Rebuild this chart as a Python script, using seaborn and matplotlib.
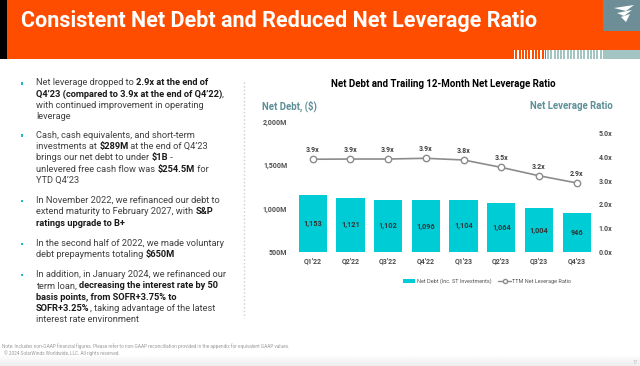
"""
净债务与净杠杆率幻灯片复刻
"""

import numpy as np
import pandas as pd
import matplotlib
matplotlib.use('Agg')
import matplotlib.pyplot as plt
import seaborn as sns
from matplotlib.patches import Rectangle, Polygon, Patch
from matplotlib.lines import Line2D
from matplotlib.ticker import FuncFormatter
from matplotlib import font_manager

# 数据
quarters = ["Q1'22", "Q2'22", "Q3'22", "Q4'22", "Q1'23", "Q2'23", "Q3'23", "Q4'23"]
net_debt = [1153, 1121, 1102, 1096, 1104, 1064, 1004, 946]
leverage = [3.89, 3.90, 3.90, 3.93, 3.86, 3.55, 3.20, 2.90]
leverage_labels = ["3.9x", "3.9x", "3.9x", "3.9x", "3.8x", "3.5x", "3.2x", "2.9x"]
debt_ticks = [500, 1000, 1500, 2000]
ratio_ticks = [0, 1, 2, 3, 4, 5]

df = pd.DataFrame({'quarter': quarters, 'pos': range(len(quarters)),
                   'net_debt': net_debt, 'leverage': leverage})

# 颜色
ORANGE = '#FF4D00'
TEAL = '#00CCD6'
AXIS_TITLE = '#5C8F97'
LINE_GRAY = '#8C8C8C'
TEXT = '#404040'
BOLD_TEXT = '#1A1A1A'

sns.set_style('white')
plt.rcParams['font.family'] = ['Roboto', 'DejaVu Sans']

installed = {f.name for f in font_manager.fontManager.ttflist}
TITLE_FONT = 'Liberation Sans Narrow' if 'Liberation Sans Narrow' in installed else 'Roboto'

W, H = 640, 366
fig = plt.figure(figsize=(W / 100, H / 100), dpi=100)
fig.patch.set_facecolor('white')


def fx(x):
    return x / W


def fy(y):
    return 1 - y / H


def rect(x0, y0, x1, y1, color, z=0):
    fig.add_artist(Rectangle((fx(x0), fy(y1)), (x1 - x0) / W, (y1 - y0) / H,
                             transform=fig.transFigure, facecolor=color,
                             edgecolor='none', zorder=z))


# ========== 页眉 ==========
rect(0, 0, W, 59, ORANGE)
rect(0, 0, 7, 59, 'black', 1)
rect(603, 0, W, 31, '#6D8E97', 1)
rect(546, 50, 605, 59, 'white', 1)
rect(605, 50, W, 59, '#A2C4C3', 1)
for xs in np.arange(514, 546, 3.3):
    rect(xs, 50, xs + 1.2, 59, 'white', 2)
for xs in np.arange(547, 604, 3.3):
    rect(xs, 50, xs + 2.0, 59, '#A2C4C3', 2)
# 简化的标志
for pts in [[(614, 8), (634, 5), (626, 11)], [(617, 13), (632, 10), (624, 16)],
            [(621, 17), (630, 14), (626, 22)]]:
    fig.add_artist(Polygon([(fx(a), fy(b)) for a, b in pts], closed=True,
                           transform=fig.transFigure, facecolor='white',
                           edgecolor='none', zorder=3))

fig.text(fx(21), fy(26.7), 'Consistent Net Debt and Reduced Net Leverage Ratio',
         fontsize=15.5, fontweight='bold', color='white', family=TITLE_FONT,
         va='baseline', ha='left', zorder=3)

# 页脚渐变
grad_ax = fig.add_axes([0, 0, 1, 12 / H])
grad_ax.imshow(np.linspace(1.0, 0.93, 20).reshape(-1, 1), cmap='gray', vmin=0, vmax=1,
               aspect='auto', extent=[0, 1, 0, 1])
grad_ax.axis('off')

fig.text(fx(2), fy(345.7), 'Note: Includes non-GAAP financial figures. Please refer to '
         'non-GAAP reconciliation provided in the appendix for equivalent GAAP values.',
         fontsize=3.4, color='#9A9A9A', va='center')
fig.text(fx(4), fy(353.3), '© 2024 SolarWinds Worldwide, LLC. All rights reserved.',
         fontsize=3.4, color='#9A9A9A', va='center')
fig.text(fx(638), fy(362.5), '17', fontsize=3.4, color='#BBBBBB', va='center', ha='right')

# 分隔虚线
fig.add_artist(Line2D([fx(244), fx(244)], [fy(82), fy(318)], transform=fig.transFigure,
                      color='#CFCFCF', linestyle=':', linewidth=1.0))

# ========== 左侧要点 ==========
renderer = fig.canvas.get_renderer()
BODY_SIZE = 6.7


def seg_width(s, bold):
    w_ = 'bold' if bold else 'normal'
    a = fig.text(0, 0, s + '|', fontsize=BODY_SIZE, fontweight=w_, parse_math=False)
    b = fig.text(0, 0, '|', fontsize=BODY_SIZE, fontweight=w_, parse_math=False)
    w = a.get_window_extent(renderer).width - b.get_window_extent(renderer).width
    a.remove()
    b.remove()
    return w


def draw_line(x, y, segments):
    for s, bold in segments:
        fig.text(fx(x), fy(y), s, fontsize=BODY_SIZE,
                 fontweight='bold' if bold else 'normal',
                 color=BOLD_TEXT if bold else TEXT, va='baseline', parse_math=False)
        x += seg_width(s, bold)


bullets = [
    (82.7, [[("Net leverage dropped to ", 0), ("2.9x at the end of", 1)],
            [("Q4’23 (compared to 3.9x at the end of Q4’22)", 1), (",", 0)],
            [("with continued improvement in operating", 0)],
            [("leverage", 0)]]),
    (135.0, [[("Cash, cash equivalents, and short-term", 0)],
             [("investments at ", 0), ("$289M", 1), (" at the end of Q4’23", 0)],
             [("brings our net debt to under ", 0), ("$1B", 1), (" -", 0)],
             [("unlevered free cash flow was ", 0), ("$254.5M", 1), (" for", 0)],
             [("YTD Q4’23", 0)]]),
    (200.3, [[("In November 2022, we refinanced our debt to", 0)],
             [("extend maturity to February 2027, with ", 0), ("S&P", 1)],
             [("ratings upgrade to B+", 1)]]),
    (243.3, [[("In the second half of 2022, we made voluntary", 0)],
             [("debt prepayments totaling ", 0), ("$650M", 1)]]),
    (274.3, [[("In addition, in January 2024, we refinanced our", 0)],
             [("term loan, ", 0), ("decreasing the interest rate by 50", 1)],
             [("basis points, from SOFR+3.75% to", 1)],
             [("SOFR+3.25%", 1), (", taking advantage of the latest", 0)],
             [("interest rate environment", 0)]]),
]
LINE_GAP = 11.35
for y0, lines in bullets:
    rect(21, y0 - 0.6, 23.4, y0 + 1.8, '#1FB8C9', 2)
    for k, segs in enumerate(lines):
        draw_line(36, y0 + 2.6 + k * LINE_GAP, segs)

# ========== 右侧图表 ==========
ax = fig.add_axes([fx(293.8), fy(252.3), (595.6 - 293.8) / W, (252.3 - 121.7) / H])
sns.barplot(data=df, x='quarter', y='net_debt', color=TEAL, saturation=1,
            width=0.75, linewidth=0, ax=ax)
ax.set_ylim(500, 2000)
ax.set_xlim(-0.5, len(quarters) - 0.5)
ax.set_yticks(debt_ticks)
ax.yaxis.set_major_formatter(FuncFormatter(lambda v, p: f"{v:,.0f}M"))
ax.set_xlabel('')
ax.set_ylabel('')
ax.tick_params(axis='both', length=0, labelsize=5, labelcolor='#4D4D4D')
ax.tick_params(axis='y', pad=4.8)
ax.tick_params(axis='x', pad=3.8)
for lab in ax.get_xticklabels() + ax.get_yticklabels():
    lab.set_fontweight('bold')
sns.despine(ax=ax, left=True, bottom=True)

for i, v in enumerate(net_debt):
    ax.text(i, (500 + v) / 2, f"{v:,}", ha='center', va='center', fontsize=5.3,
            fontweight='bold', color='#333333')

ax2 = ax.twinx()
sns.lineplot(data=df, x='pos', y='leverage', color=LINE_GRAY, linewidth=1.2,
             marker='o', markersize=4.6, markerfacecolor='white',
             markeredgecolor=LINE_GRAY, markeredgewidth=1.0, ax=ax2)
ax2.set_ylim(0, 5.46)
ax2.set_yticks(ratio_ticks)
ax2.yaxis.set_major_formatter(FuncFormatter(lambda v, p: f"{v:.1f}x"))
ax2.set_xlabel('')
ax2.set_ylabel('')
ax2.tick_params(axis='y', length=0, labelsize=5, labelcolor='#4D4D4D', pad=2)
for lab in ax2.get_yticklabels():
    lab.set_fontweight('bold')
for sp in ax2.spines.values():
    sp.set_visible(False)

for i, (v, lab) in enumerate(zip(leverage, leverage_labels)):
    ax2.text(i, v + 0.38, lab, ha='center', va='center', fontsize=5,
             fontweight='bold', color='#404040')

# 图表标题与轴标题
fig.text(fx(443), fy(84), 'Net Debt and Trailing 12-Month Net Leverage Ratio',
         ha='center', va='center', fontsize=7.0, fontweight='bold', color='black')
fig.text(fx(262), fy(106), 'Net Debt, ($)', ha='left', va='center', fontsize=6.9,
         fontweight='bold', color=AXIS_TITLE, parse_math=False)
fig.text(fx(613), fy(106), 'Net Leverage Ratio', ha='right', va='center', fontsize=6.9,
         fontweight='bold', color=AXIS_TITLE)

# 图例
handles = [Patch(facecolor=TEAL, edgecolor='none'),
           Line2D([], [], color=LINE_GRAY, linewidth=1.0, marker='o', markersize=3,
                  markerfacecolor='white', markeredgecolor=LINE_GRAY)]
fig.legend(handles, ['Net Debt (Inc. ST Investments)', 'TTM Net Leverage Ratio'],
           loc='center', bbox_to_anchor=(fx(487), fy(281)), ncol=2, frameon=False,
           fontsize=4, labelcolor='#555555', handlelength=2.2, handleheight=0.8,
           handletextpad=0.2, columnspacing=1.3)

fig.savefig('out.png', dpi=100)
